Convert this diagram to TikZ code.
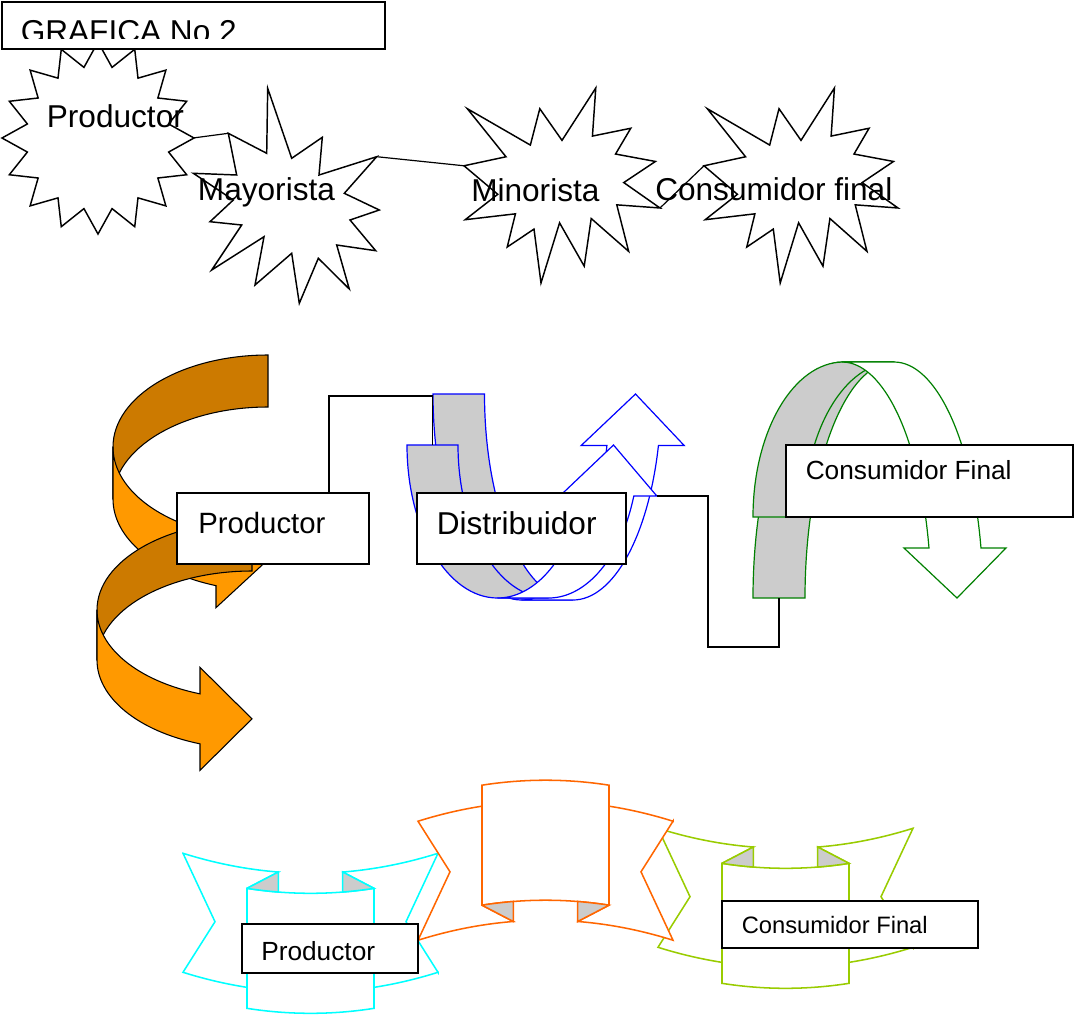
\documentclass[tikz,border=0pt]{standalone}
\usepackage{fontspec}
\setmainfont{Liberation Sans}
\usetikzlibrary{calc}

\definecolor{orangelight}{HTML}{FF9900}
\definecolor{orangedark}{HTML}{CC7A00}
\definecolor{foldgray}{HTML}{CCCCCC}
\definecolor{arcblue}{HTML}{0000FF}
\definecolor{arcgreen}{HTML}{008000}
\definecolor{ribcyan}{HTML}{00FFFF}
\definecolor{riborange}{HTML}{FF6600}
\definecolor{ribgreen}{HTML}{99CC00}

% curved right arrow: #1 left x, #2 top y, #3 width, #4 half height of arc,
% #5 band thickness, #6 head length, #7 head width
\newcommand{\curvedRight}[7]{%
  \pgfmathsetmacro\crXr{#1+#3}%
  \pgfmathsetmacro\crYa{#2+#4}%
  \pgfmathsetmacro\crYb{#2+#4+#5}%
  \pgfmathsetmacro\crAng{acos(-#6/#3)}%
  \pgfmathsetmacro\crXb{#1+#3-#6}%
  \pgfmathsetmacro\crYi{\crYa+#4*sin(\crAng)}%
  \pgfmathsetmacro\crYo{\crYb+#4*sin(\crAng)}%
  \pgfmathsetmacro\crYm{(\crYi+\crYo)/2}%
  \filldraw[spiral, fill=orangedark] (\crXr,#2)
    arc[start angle=270, end angle=180, x radius=#3, y radius=#4]
    -- (#1,\crYb)
    arc[start angle=180, end angle=270, x radius=#3, y radius=#4] -- cycle;
  \filldraw[spiral, fill=orangelight] (#1,\crYa)
    arc[start angle=180, end angle=\crAng, x radius=#3, y radius=#4]
    -- (\crXb,{\crYm-#7/2}) -- (\crXr,\crYm) -- (\crXb,{\crYm+#7/2})
    -- (\crXb,\crYo)
    arc[start angle=\crAng, end angle=180, x radius=#3, y radius=#4] -- cycle;
}

% curved up arrow: #1 left x, #2 top y, #3 width, #4 height,
% #5 band thickness, #6 head width, #7 head length, #8 colour
\newcommand{\cuSetup}[7]{%
  \pgfmathsetmacro\cuR{#3/2-(#5+#6)/4}%
  \pgfmathsetmacro\cuXc{#1+\cuR}%
  \pgfmathsetmacro\cuXd{#1+\cuR+#5}%
  \pgfmathsetmacro\cuAng{asin(#7/#4)}%
  \pgfmathsetmacro\cuDx{\cuR*cos(\cuAng)}%
  \pgfmathsetmacro\cuXv{\cuXc+\cuDx}%
  \pgfmathsetmacro\cuXw{\cuXd+\cuDx}%
  \pgfmathsetmacro\cuDh{(#6-#5)/2}%
  \pgfmathsetmacro\cuTip{#1+#3-#6/2}%
  \pgfmathsetmacro\cuYh{#2+#7}%
  \pgfmathsetmacro\cuYb{#2+#4}%
}
% back band (shaded)
\newcommand{\curvedUpBack}[8]{%
  \cuSetup{#1}{#2}{#3}{#4}{#5}{#6}{#7}%
  \filldraw[arcline, draw=#8, fill=foldgray] (#1,#2)
    arc[start angle=180, end angle=90, x radius=\cuR, y radius=#4]
    -- (\cuXd,\cuYb)
    arc[start angle=90, end angle=180, x radius=\cuR, y radius=#4] -- cycle;
}
% front band with its arrow head
\newcommand{\curvedUpFront}[8]{%
  \cuSetup{#1}{#2}{#3}{#4}{#5}{#6}{#7}%
  \filldraw[arcline, draw=#8, fill=white] (\cuXc,\cuYb)
    arc[start angle=90, end angle=\cuAng, x radius=\cuR, y radius=#4]
    -- ({\cuXv-\cuDh},\cuYh) -- (\cuTip,#2) -- ({\cuXw+\cuDh},\cuYh)
    -- (\cuXw,\cuYh)
    arc[start angle=\cuAng, end angle=90, x radius=\cuR, y radius=#4] -- cycle;
}
\newcommand{\curvedUp}[8]{%
  \curvedUpBack{#1}{#2}{#3}{#4}{#5}{#6}{#7}{#8}%
  \curvedUpFront{#1}{#2}{#3}{#4}{#5}{#6}{#7}{#8}%
}

% ribbon banner: wings behind a curved centre panel, folds shaded
\tikzset{
  ribbon/.pic={
    \filldraw[ribline, draw=#1, fill=white] (-127.5,-59.5)
      -- plot[domain=-127.5:-32.2] (\x,{-39.5-rib(\x)})
      -- (-63.5,-24.5)
      -- plot[domain=-63.5:63.5] (\x,{-19.5-rib(\x)})
      -- (32.2,-40.8)
      -- plot[domain=32.2:127.5] (\x,{-39.5-rib(\x)})
      -- (95.5,8.9) -- (127.5,59.5)
      -- plot[domain=127.5:63.5] (\x,{79.5-rib(\x)})
      -- (63.5,95.5)
      -- plot[domain=63.5:-63.5] (\x,{100.5-rib(\x)})
      -- (-63.5,74.5)
      -- plot[domain=-63.5:-127.5] (\x,{79.5-rib(\x)})
      -- (-95.5,8.9) -- cycle;
    \filldraw[ribline, draw=#1, fill=foldgray] (-63.5,-24.5) -- (-32.2,-40.8) -- (-32.2,-20.8)
      -- plot[domain=-32.2:-63.5] (\x,{-19.5-rib(\x)}) -- cycle;
    \filldraw[ribline, draw=#1, fill=foldgray] (63.5,-24.5) -- (32.2,-40.8) -- (32.2,-20.8)
      -- plot[domain=32.2:63.5] (\x,{-19.5-rib(\x)}) -- cycle;
    \draw[ribline, draw=#1] (-63.5,-24.5) -- (-63.5,95.5);
    \draw[ribline, draw=#1] (63.5,-24.5) -- (63.5,95.5);
  }
}

\begin{document}
\begin{tikzpicture}[x=0.75pt, y=-0.75pt,
  declare function={rib(\u)=(0.0351*\u)*(0.0351*\u);},
  starline/.style={draw=black, line width=1.1pt, fill=white},
  box/.style={draw=black, line width=1.1pt, fill=white, inner sep=0pt, outer sep=0pt, anchor=north west},
  conn/.style={draw=black, line width=0.9pt},
  spiral/.style={draw=black, line width=0.8pt},
  arcline/.style={line width=0.9pt},
  ribline/.style={line width=1.15pt},
  bigtext/.style={font=\fontsize{23.7}{28}\selectfont, inner sep=0pt, anchor=base west},
  midtext/.style={font=\fontsize{22}{26}\selectfont, inner sep=0pt, anchor=base west},
  smalltext/.style={font=\fontsize{19.7}{24}\selectfont, inner sep=0pt, anchor=base west},
  tinytext/.style={font=\fontsize{17.8}{22}\selectfont, inner sep=0pt, anchor=base west}]

\useasboundingbox[fill=white] (0,0) rectangle (1075,1015);

% ---------- first chain: starbursts ----------
\draw[starline] plot[samples at={0,...,31}, variable=\k]
  ({98+(72+24*(1-mod(\k,2)))*cos(11.25*\k)},{138+(72+24*(1-mod(\k,2)))*sin(11.25*\k)}) -- cycle;
\coordinate (prodR) at (193,138);

\node[box, minimum width=287.25pt, minimum height=35.25pt] (title) at (2,2) {};
\begin{scope}
  \clip (2,2) rectangle (385,38.5);
  \node[bigtext] (titletext) at (20.5,42.6) {GRAFICA No 2};
\end{scope}

\draw[starline] (267.7,88.3) -- (291.7,158.3) -- (322.3,137.3) -- (319,175) -- (376.7,156.7)
  -- (344.3,193.3) -- (379.3,210) -- (350,220) -- (375.7,250.7) -- (336.7,245) -- (349.3,289)
  -- (318.3,258.3) -- (299.3,303.3) -- (291.7,253.3) -- (255,285) -- (264,236.7) -- (211.7,270)
  -- (241.7,225) -- (210,221.7) -- (233.3,200) -- (193.3,173.3) -- (236.7,175) -- (228.3,133.3)
  -- (266.7,153.3) -- cycle;
\coordinate (mayUL) at (228.3,133.3);
\coordinate (mayUR) at (376.7,156.7);

\begin{scope}[shift={(464,88)}, xscale=196/216, yscale=195/216]
  \draw[starline] (108,58) -- (145.22,0) -- (141.55,53.25) -- (183.8,44.57) -- (167.02,73.15)
    -- (210.97,81.37) -- (176.07,104.75) -- (216,132.9) -- (168.37,129.42) -- (181.45,180.95)
    -- (140.2,144.57) -- (132.47,197.37) -- (105.32,149.35) -- (84.85,216) -- (77.15,156.27)
    -- (47.62,176.17) -- (56.67,139.37) -- (1.35,145.87) -- (37.22,117.75) -- (0,86.15)
    -- (46.27,76.17) -- (3.7,22.95) -- (73.12,63.2) -- (83.52,22.95) -- cycle;
  \coordinate (minL) at (0,86.15);
  \coordinate (minR) at (216,132.9);
\end{scope}

\begin{scope}[shift={(704,88)}, xscale=194/216, yscale=195/216]
  \draw[starline] (108,58) -- (145.22,0) -- (141.55,53.25) -- (183.8,44.57) -- (167.02,73.15)
    -- (210.97,81.37) -- (176.07,104.75) -- (216,132.9) -- (168.37,129.42) -- (181.45,180.95)
    -- (140.2,144.57) -- (132.47,197.37) -- (105.32,149.35) -- (84.85,216) -- (77.15,156.27)
    -- (47.62,176.17) -- (56.67,139.37) -- (1.35,145.87) -- (37.22,117.75) -- (0,86.15)
    -- (46.27,76.17) -- (3.7,22.95) -- (73.12,63.2) -- (83.52,22.95) -- cycle;
  \coordinate (conL) at (0,86.15);
\end{scope}

\draw[conn] (prodR) -- (mayUL);
\draw[conn] (mayUR) -- (minL);
\draw[conn] (minR) -- (conL);

\node[bigtext] (t1) at (46.6,127.5) {Productor};
\node[bigtext] (t2) at (197.7,200) {Mayorista};
\node[bigtext] (t3) at (471,201) {Minorista};
\node[bigtext] (t4) at (655,200.5) {Consumidor final};

% ---------- second chain: curved arrows ----------
\curvedRight{113}{355}{155}{92}{52}{52}{96}
\curvedRight{97}{521}{155}{89}{50}{52}{103}

\curvedUp{433}{394}{254}{206}{51.5}{103}{51.5}{arcblue}
\curvedUp{407}{445}{255}{153}{51}{97}{51}{arcblue}

% green arches: shaded bands first, the tall arch's front band with its head on top
\begin{scope}[shift={(0,960)}, yscale=-1]
  \curvedUpBack{753}{362}{255}{236}{52}{102}{50}{arcgreen}
\end{scope}
\begin{scope}[shift={(0,879)}, yscale=-1]
  \curvedUpBack{753}{362}{255}{155}{51}{97}{51}{arcgreen}
\end{scope}
\begin{scope}[shift={(0,960)}, yscale=-1]
  \curvedUpFront{753}{362}{255}{236}{52}{102}{50}{arcgreen}
\end{scope}

\node[box, minimum width=144pt, minimum height=53.25pt] (prod2) at (177,493) {};
\node[box, minimum width=156.75pt, minimum height=53.25pt] (dist) at (417,493) {};
\node[box, minimum width=215.25pt, minimum height=54pt] (cons2) at (786,445) {};

\coordinate (k1) at (329,396);
\coordinate (btop) at (432.5,445);
\coordinate (bbarb) at (656.8,496);
\coordinate (k2) at (708,647);
\coordinate (dfoot) at (779,598);
\draw[conn] (prod2.north -| k1) -- (k1) -| (btop);
\draw[conn] (bbarb) -| (k2) -| (dfoot);

\node[midtext] (t5) at (198,533.3) {Productor};
\node[bigtext] (t6) at (436.5,534) {Distribuidor};
\node[smalltext] (t7) at (805.5,479.3) {Consumidor Final};

% ---------- third chain: ribbons ----------
\pic at (310.5,912.8) {ribbon=ribcyan};
\pic at (785.5,887.8) {ribbon=ribgreen};
\pic[yscale=-1] at (545.5,880.7) {ribbon=riborange};

\node[box, minimum width=132pt, minimum height=36.75pt] (prod3) at (242,924) {};
\node[box, minimum width=192pt, minimum height=35.25pt] (cons3) at (722,901) {};
\node[smalltext] (t8) at (261,960.7) {Productor};
\node[tinytext] (t9) at (741.5,933.3) {Consumidor Final};

\end{tikzpicture}
\end{document}
